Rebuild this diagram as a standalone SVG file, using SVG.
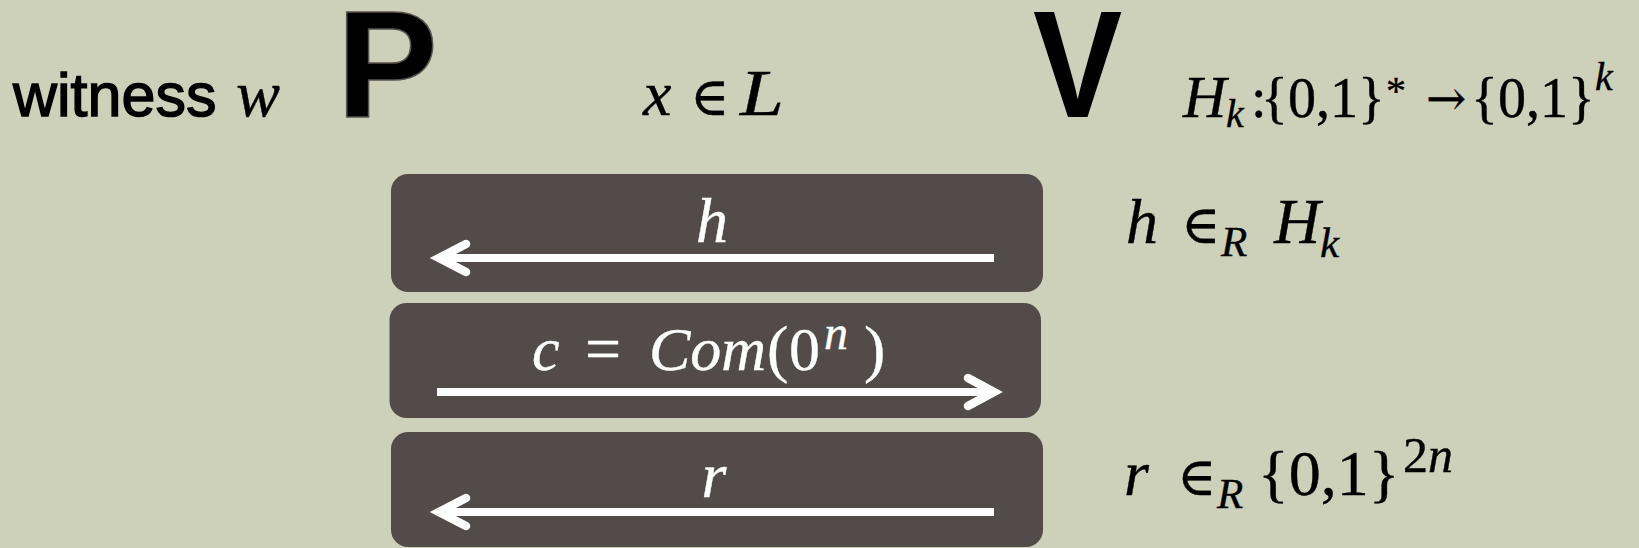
<svg xmlns="http://www.w3.org/2000/svg" width="1639" height="548" viewBox="0 0 1639 548">
<style>
.bg{fill:#CDD1BA}
.box{fill:#534B49}
.sans{font-family:"Liberation Sans",Arial,sans-serif;fill:#000}
.big{font-family:"Liberation Sans",Arial,sans-serif;font-weight:bold;font-size:152px;fill:#000}
.math{font-family:"Liberation Serif","Times New Roman",serif}
.mi{font-style:italic}
.mu{font-style:normal}
.sym{font-family:"DejaVu Serif",serif;font-style:normal}
.dark{fill:#000;stroke:#000;stroke-width:0.4}
.white{fill:#FFFFFF;stroke:#FFFFFF;stroke-width:0.4}
.arrow{stroke:#FFFFFF;stroke-width:8;fill:none}
.head{stroke:#FFFFFF;stroke-width:8.5;fill:none;stroke-linecap:round;stroke-linejoin:miter}
</style>
<rect class="bg" x="0" y="0" width="1639" height="548"/>

<g id="witness">
  <text x="13" y="116"><tspan class="sans" font-size="61" stroke="#000" stroke-width="1.4">witness</tspan><tspan class="math mi dark" x="236" font-size="66">w</tspan></text>
</g>

<g id="prover">
  <text class="big" x="336.5" y="117" stroke="#5a5450" stroke-width="1.5">P</text>
</g>

<g id="statement">
  <text class="math dark" y="115"><tspan class="mi" x="643" font-size="64">x</tspan><tspan class="sym" x="690" font-size="53">∈</tspan><tspan class="mi" x="740" font-size="66" textLength="44" lengthAdjust="spacingAndGlyphs">L</tspan></text>
</g>

<g id="verifier">
  <text class="big" transform="translate(1033,117) scale(0.88,1)" x="0" y="0">V</text>
</g>

<g id="hash-family">
  <text class="math dark" y="117"><tspan class="mi" x="1183" font-size="60">H</tspan><tspan class="mi" x="1226" y="127" font-size="40">k</tspan><tspan class="mu" x="1251" y="117" font-size="56">:</tspan><tspan class="mu" x="1261" font-size="56">{0,1}</tspan><tspan class="mu" x="1386" y="104" font-size="40">*</tspan><tspan class="sym" x="1426" y="115" font-size="48">→</tspan><tspan class="mu" x="1471" y="117" font-size="56">{0,1}</tspan><tspan class="mi" x="1595" y="90" font-size="40">k</tspan></text>
</g>

<g id="msg-h">
  <rect class="box" x="391" y="174" width="652" height="118" rx="17" ry="17"/>
  <text class="math mi white" x="712" y="242" font-size="64" text-anchor="middle">h</text>
</g>

<g id="msg-c">
  <rect class="box" x="389.5" y="303" width="651.5" height="115" rx="17" ry="17"/>
  <text class="math white" y="370"><tspan class="mi" x="532" font-size="62">c</tspan><tspan class="mu" x="585" font-size="64">=</tspan><tspan class="mi" x="649" font-size="62">Com</tspan><tspan class="mu" x="767" font-size="64">(</tspan><tspan class="mu" x="789" font-size="62">0</tspan><tspan class="mi" x="824" y="349" font-size="48">n</tspan><tspan class="mu" x="864" y="370" font-size="64">)</tspan></text>
</g>

<g id="msg-r">
  <rect class="box" x="391" y="432" width="652" height="115" rx="17" ry="17"/>
  <text class="math mi white" x="714" y="497" font-size="64" text-anchor="middle">r</text>
</g>

<g id="verifier-h">
  <text class="math dark" y="243"><tspan class="mi" x="1126" font-size="64">h</tspan><tspan class="sym" x="1181" font-size="53">∈</tspan><tspan class="mi" x="1221" y="256" font-size="43">R</tspan><tspan class="mi" x="1274" y="243" font-size="64">H</tspan><tspan class="mi" x="1320" y="257" font-size="43">k</tspan></text>
</g>

<g id="verifier-r">
  <text class="math dark" y="495"><tspan class="mi" x="1124" font-size="64">r</tspan><tspan class="sym" x="1177" font-size="53">∈</tspan><tspan class="mi" x="1217" y="508" font-size="43">R</tspan><tspan class="mu" x="1258" y="495" font-size="64">{0,1}</tspan><tspan class="mu" x="1403" y="472" font-size="50">2</tspan><tspan class="mi" font-size="50">n</tspan></text>
</g>

<g id="connectors">
  <line class="arrow" x1="994" y1="258" x2="440" y2="258"/>
  <polyline class="head" points="466,244 439,258 466,272"/>
  <line class="arrow" x1="437" y1="392" x2="992" y2="392"/>
  <polyline class="head" points="968,378 994,392 968,406"/>
  <line class="arrow" x1="994" y1="512" x2="440" y2="512"/>
  <polyline class="head" points="466,498 439,512 466,526"/>
</g>
</svg>
